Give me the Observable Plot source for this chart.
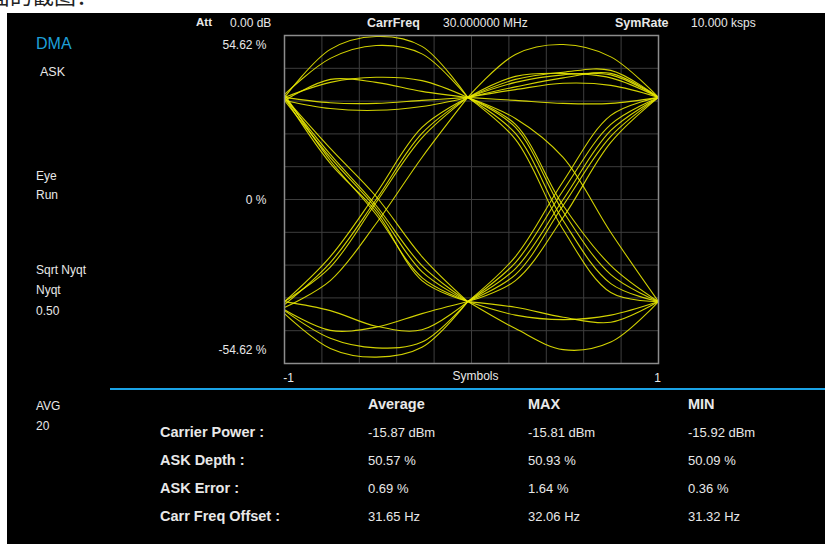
<!DOCTYPE html>
<html><head><meta charset="utf-8">
<script src="https://cdn.jsdelivr.net/npm/d3@7"></script>
<script src="https://cdn.jsdelivr.net/npm/@observablehq/plot@0.6"></script>
<style>
html,body{margin:0;padding:0;background:#fff;width:825px;height:544px;overflow:hidden;position:relative;font-family:"Liberation Sans",Arial,sans-serif;}
#cut{position:absolute;left:-12px;top:-17px;font-family:"Noto Sans CJK SC",sans-serif;font-size:22px;line-height:22px;color:#222;white-space:nowrap;}
#screen{position:absolute;left:7px;top:13px;width:818px;height:531px;background:#000;}
#chart{position:absolute;left:0;top:0;}
.t{position:absolute;color:#e8e8e8;font-size:12px;line-height:12px;white-space:nowrap;}
.b{font-weight:bold;}
#sep{position:absolute;left:110px;top:388px;width:715px;height:2px;background:#1aa3e6;}
</style></head><body>
<div id="cut">面的截图：</div>
<div id="screen"></div>
<div id="chart"></div>
<div id="sep"></div>
<div id="labels"></div>
<script>
// ---- eye diagram data (values in %) ----
const yFullScale = 54.62;
const symbolTimes = [-1, -0.02, 1];
const phases = [0, 0.25, 0.5, 0.75, 1];
// segments in the first symbol interval
const firstSymbol = [
  [34, 50, 54.3, 51, 34],
  [35, 47, 51.3, 48.5, 34],
  [34, 39, 40.7, 39.6, 34],
  [33, 40, 39, 36, 34],
  [34, 32.2, 32, 33, 34],
  [33, 30.3, 29.7, 31, 34],
  [-34, -37, -42.2, -43.4, -34],
  [-36.7, -43.6, -42.5, -38, -34],
  [-37, -46.2, -49.4, -47.5, -34],
  [-38, -49.6, -52.5, -49.2, -34],
  [34, 17, 1, -19, -34],
  [34, 15, -2, -22, -34],
  [33, 14, -3, -24, -34],
  [35, 13, -5, -26, -34],
  [34, 12, -4, -27, -34],
  [-34, -19, 2, 24, 34],
  [-35, -21, 0, 22, 34],
  [-34, -22.5, -1, 20.5, 34],
  [-36, -27, -8, 14, 34]
];
// segments in the second symbol interval
const secondSymbol = [
  [34, 48.3, 51.6, 47.5, 34],
  [34, 40, 42.4, 43, 34],
  [34, 41, 42, 40.5, 34],
  [34, 39, 41.5, 41.5, 34],
  [34, 37.5, 40.5, 42, 34],
  [34, 36.6, 38.7, 38, 34],
  [34, 33, 32, 32, 34],
  [-34, -38.5, -40, -38.5, -34],
  [-34, -35.9, -39.2, -40.9, -34],
  [-34, -43, -50, -47.5, -34],
  [34, 24, -4, -25, -34],
  [34, 22, -7, -28, -34],
  [34, 20, -10, -31, -34],
  [34, 27, 14, -11, -34],
  [34, 25, -2, -22, -34],
  [-34, -19, 6, 28, 34],
  [-34, -21, 3, 25, 34],
  [-34, -23, 0, 23, 34],
  [-34, -25, -2, 21, 34],
  [-34, -27, -6, 19, 34]
];
const yTickValues = [54.62, 0, -54.62];
const yTickLabels = ["54.62 %", "0 %", "-54.62 %"];
const xTickValues = [-1, 1];
const xTickLabels = ["-1", "1"];
const xAxisLabel = "Symbols";

// ---- side / header / table texts ----
const tableColumns = ["Average", "MAX", "MIN"];
const tableRows = ["Carrier Power :", "ASK Depth :", "ASK Error :", "Carr Freq Offset :"];
const averageValues = ["-15.87 dBm", "50.57 %", "0.69 %", "31.65 Hz"];
const maxValues = ["-15.81 dBm", "50.93 %", "1.64 %", "32.06 Hz"];
const minValues = ["-15.92 dBm", "50.09 %", "0.36 %", "31.32 Hz"];

const segments = [
  ...firstSymbol.map(v => ({from: symbolTimes[0], to: symbolTimes[1], v})),
  ...secondSymbol.map(v => ({from: symbolTimes[1], to: symbolTimes[2], v}))
];
const rows = segments.flatMap((s, i) => phases.map((p, k) => ({id: i, t: s.from + p * (s.to - s.from), v: s.v[k]})));
const xGrid = d3.range(11).map(i => -1 + i * 0.2);
const yGrid = d3.range(11).map(i => -yFullScale + i * yFullScale / 5);

const chart = Plot.plot({
  width: 825, height: 544,
  marginLeft: 284, marginRight: 167, marginTop: 35, marginBottom: 181,
  x: {domain: [-1, 1]},
  y: {domain: [-yFullScale, yFullScale]},
  style: {background: "none", color: "#e8e8e8", fontFamily: "Liberation Sans, Arial, sans-serif", fontSize: "12px"},
  marks: [
    Plot.gridX(xGrid, {stroke: "#3e3e3e", strokeOpacity: 1}),
    Plot.gridY(yGrid, {stroke: "#3e3e3e", strokeOpacity: 1}),
    Plot.line(rows, {x: "t", y: "v", z: "id", curve: "catmull-rom", stroke: "#e8e800", strokeWidth: 1.1, strokeOpacity: 0.9}),
    Plot.frame({stroke: "#8c8c8c", strokeWidth: 1.5}),
    Plot.axisY([yTickValues[0]], {tickSize: 0, tickPadding: 18, dy: 10, tickFormat: () => yTickLabels[0], label: null}),
    Plot.axisY([yTickValues[1]], {tickSize: 0, tickPadding: 18, dy: 1, tickFormat: () => yTickLabels[1], label: null}),
    Plot.axisY([yTickValues[2]], {tickSize: 0, tickPadding: 18, dy: -13, tickFormat: () => yTickLabels[2], label: null}),
    Plot.axisX([xTickValues[0]], {tickSize: 0, tickPadding: 10, dx: 4, tickFormat: () => xTickLabels[0], label: null}),
    Plot.axisX([xTickValues[1]], {tickSize: 0, tickPadding: 10, dx: -1, tickFormat: () => xTickLabels[1], label: null}),
    Plot.text([xAxisLabel], {text: d => d, frameAnchor: "bottom", dy: 16, dx: 4, fill: "#e8e8e8"})
  ]
});
document.getElementById("chart").appendChild(chart);

// overlay texts: [text, x, yCenter, size, bold, color]
const texts = [
  ["Att", 196, 23, 11.5, true],
  ["0.00 dB", 230, 23, 12, false],
  ["CarrFreq", 367, 23, 12.5, true],
  ["30.000000 MHz", 443, 23, 12, false],
  ["SymRate", 615, 23, 12.5, true],
  ["10.000 ksps", 691, 23, 12, false],
  ["DMA", 36, 44, 16, false, "#1e9fd8"],
  ["ASK", 40, 72, 12.5, false],
  ["Eye", 36, 176, 12, false],
  ["Run", 36, 195, 12, false],
  ["Sqrt Nyqt", 36, 270, 12, false],
  ["Nyqt", 36, 290, 12, false],
  ["0.50", 36, 311, 12, false],
  ["AVG", 36, 406, 12, false],
  ["20", 36, 426, 12, false]
];
const colX = [368, 528, 688];
const rowY = [432, 460, 488, 516];
tableColumns.forEach((c, i) => texts.push([c, colX[i], 404, 14.5, true]));
tableRows.forEach((r, i) => {
  texts.push([r, 160, rowY[i], 14.5, true]);
  texts.push([averageValues[i], colX[0], rowY[i], 13, false]);
  texts.push([maxValues[i], colX[1], rowY[i], 13, false]);
  texts.push([minValues[i], colX[2], rowY[i], 13, false]);
});
const holder = document.getElementById("labels");
for (const [s, x, y, size, bold, color] of texts) {
  const d = document.createElement("div");
  d.className = "t" + (bold ? " b" : "");
  d.textContent = s;
  d.style.left = x + "px";
  d.style.top = (y - size / 2) + "px";
  d.style.fontSize = size + "px";
  d.style.lineHeight = size + "px";
  if (color) d.style.color = color;
  holder.appendChild(d);
}
</script>
</body></html>
